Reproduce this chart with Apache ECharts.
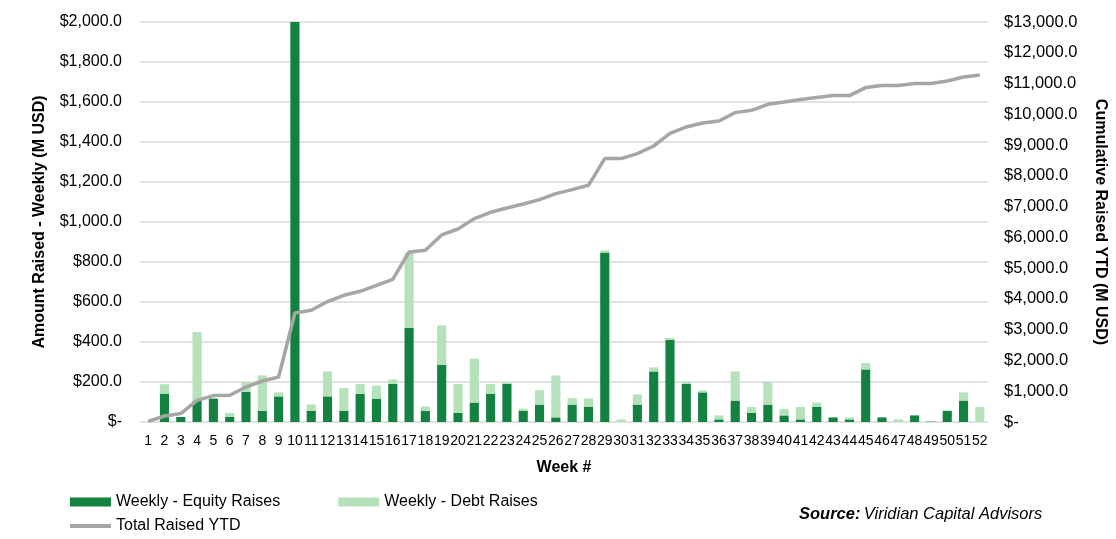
<!DOCTYPE html>
<html>
<head>
<meta charset="utf-8">
<script src="https://cdn.jsdelivr.net/npm/echarts@6/dist/echarts.min.js"></script>
<style>
html,body{margin:0;padding:0;background:#fff;}
#c{width:1116px;height:539px;}
</style>
</head>
<body>
<div id="c"></div>
<script>
const weeks = Array.from({length:52}, (_, i) => String(i + 1));
const equity = [0,142,25,105,117,25,150,55,128,2080,55,128,55,140,117,190,470,55,285,45,97,140,190,55,87,23,87,75,847,0,87,253,410,190,148,13,107,45,87,33,13,75,23,13,263,23,0,33,2,55,107,0];
const debt = [0,47,0,345,0,20,50,178,20,0,33,125,115,50,65,23,375,23,198,145,220,50,8,12,72,210,32,43,11,13,51,20,10,10,10,20,146,30,113,32,62,22,0,10,32,0,13,0,0,3,41,75];
const cumulative = [20,195,273,705,858,870,1138,1333,1463,3543,3630,3915,4118,4248,4443,4638,5525,5580,6080,6273,6610,6815,6955,7085,7228,7423,7553,7693,8560,8560,8723,8970,9383,9588,9718,9783,10055,10130,10325,10400,10478,10543,10608,10608,10868,10933,10933,10998,10998,11083,11213,11278];
const leftTicks = {min:0, max:2000, interval:200};
const rightTicks = {min:0, max:13000, interval:1000};

function money(v){
  if (v === 0) return '$-';
  const s = Math.round(v).toString().replace(/\B(?=(\d{3})+(?!\d))/g, ',');
  return '$' + s + '.0';
}

const chart = echarts.init(document.getElementById('c'));
const font = 'Liberation Sans, Arial, sans-serif';
chart.setOption({
  animation:false,
  textStyle:{fontFamily:font},
  grid:{left:140, right:125, top:22, bottom:117, containLabel:false},
  legend:[
    {left:70, top:494, padding:0, itemWidth:41, itemHeight:9, itemGap:58, icon:'rect',
     textStyle:{fontFamily:font, fontSize:16, color:'#000'},
     data:['Weekly - Equity Raises','Weekly - Debt Raises']},
    {left:70, top:518, padding:0, itemWidth:41, itemHeight:4, icon:'rect',
     textStyle:{fontFamily:font, fontSize:16, color:'#000'},
     data:['Total Raised YTD']}
  ],
  xAxis:{
    type:'category', data:weeks,
    name:'Week #', nameLocation:'middle', nameGap:38,
    nameTextStyle:{fontFamily:font, fontSize:16, fontWeight:'bold', color:'#000'},
    axisLine:{show:false}, axisTick:{show:false},
    axisLabel:{interval:0, fontSize:14, color:'#000', margin:12, fontFamily:font}
  },
  yAxis:[
    {type:'value', min:leftTicks.min, max:leftTicks.max, interval:leftTicks.interval,
     name:'Amount Raised - Weekly (M USD)', nameLocation:'middle', nameGap:92,
     nameTextStyle:{fontFamily:font, fontSize:16, fontWeight:'bold', color:'#000'},
     axisLine:{show:false}, axisTick:{show:false},
     splitLine:{lineStyle:{color:'#d9d9d9', width:1.5}},
     axisLabel:{formatter:money, fontSize:16, color:'#000', margin:18, fontFamily:font}},
    {type:'value', min:rightTicks.min, max:rightTicks.max, interval:rightTicks.interval,
     name:'Cumulative Raised YTD (M USD)', nameLocation:'middle', nameGap:104, nameRotate:-90,
     nameTextStyle:{fontFamily:font, fontSize:16, fontWeight:'bold', color:'#000'},
     axisLine:{show:false}, axisTick:{show:false}, splitLine:{show:false},
     axisLabel:{formatter:money, fontSize:16.5, color:'#000', margin:16, fontFamily:font}}
  ],
  series:[
    {name:'Weekly - Equity Raises', type:'bar', stack:'w', data:equity, barCategoryGap:'44%',
     itemStyle:{color:'#138241'}, clip:true},
    {name:'Weekly - Debt Raises', type:'bar', stack:'w', data:debt, barCategoryGap:'44%',
     itemStyle:{color:'#b5e2bb'}, clip:true},
    {name:'Total Raised YTD', type:'line', yAxisIndex:1, data:cumulative, showSymbol:false, symbol:'none',
     lineStyle:{color:'#a6a6a6', width:3.5}, itemStyle:{color:'#a6a6a6'}}
  ],
  graphic:[
    {type:'text', left:799, top:506, style:{
      rich:{b:{fontFamily:font, fontSize:16.5, fontWeight:'bold', fontStyle:'italic', fill:'#000'},
            i:{fontFamily:font, fontSize:16.5, fontStyle:'italic', fill:'#000'}},
      text:'{b|Source:} {i|Viridian Capital Advisors}'}}
  ]
});
</script>
</body>
</html>
